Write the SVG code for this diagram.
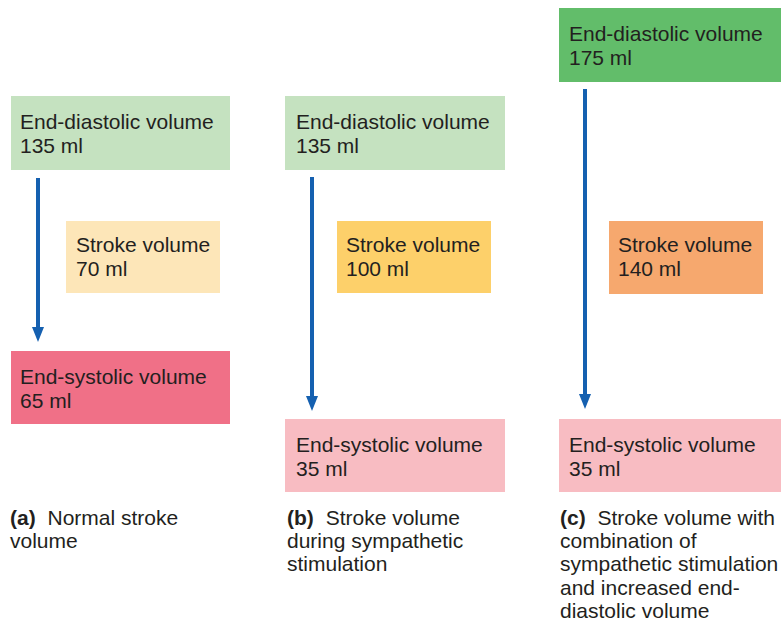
<svg xmlns="http://www.w3.org/2000/svg" width="781" height="622" viewBox="0 0 781 622">
<style>
.t{font-family:"Liberation Sans",Arial,sans-serif;font-size:21px;fill:#231f20}
.c{font-family:"Liberation Sans",Arial,sans-serif;font-size:21px;fill:#231f20}
.b{font-weight:bold}
.ar{stroke:#1560b0;stroke-width:4;fill:none}
</style>
<rect width="781" height="622" fill="#fff"/>
<g id="connectors">
<line class="ar" x1="38" y1="178" x2="38" y2="328"/>
<path d="M32,327 L44,327 L38,342 Z" fill="#1560b0"/>
<line class="ar" x1="312" y1="177" x2="312" y2="397"/>
<path d="M306,396 L318,396 L312,411 Z" fill="#1560b0"/>
<line class="ar" x1="585" y1="89" x2="585" y2="395"/>
<path d="M579,394 L591,394 L585,409 Z" fill="#1560b0"/>
</g>
<g id="a-edv"><rect x="11" y="96" width="219" height="74" fill="#c5e2c0"/><text class="t" x="20" y="129">End-diastolic volume</text><text class="t" x="20" y="153">135 ml</text></g>
<g id="a-sv"><rect x="66" y="221" width="154" height="72" fill="#fde6b8"/><text class="t" x="76" y="252">Stroke volume</text><text class="t" x="76" y="276">70 ml</text></g>
<g id="a-esv"><rect x="11" y="351" width="219" height="73" fill="#f07087"/><text class="t" x="20" y="384">End-systolic volume</text><text class="t" x="20" y="408">65 ml</text></g>
<g id="b-edv"><rect x="285" y="96" width="220" height="74" fill="#c5e2c0"/><text class="t" x="296" y="129">End-diastolic volume</text><text class="t" x="296" y="153">135 ml</text></g>
<g id="b-sv"><rect x="337" y="221" width="154" height="72" fill="#fdd06a"/><text class="t" x="346" y="252">Stroke volume</text><text class="t" x="346" y="276">100 ml</text></g>
<g id="b-esv"><rect x="285" y="419" width="220" height="73" fill="#f8bcc2"/><text class="t" x="296" y="452">End-systolic volume</text><text class="t" x="296" y="476">35 ml</text></g>
<g id="c-edv"><rect x="559" y="8" width="222" height="74" fill="#62bd6a"/><text class="t" x="569" y="41">End-diastolic volume</text><text class="t" x="569" y="65">175 ml</text></g>
<g id="c-sv"><rect x="609" y="221" width="154" height="73" fill="#f6a86e"/><text class="t" x="618" y="252">Stroke volume</text><text class="t" x="618" y="276">140 ml</text></g>
<g id="c-esv"><rect x="559" y="419" width="222" height="73" fill="#f8bcc2"/><text class="t" x="569" y="452">End-systolic volume</text><text class="t" x="569" y="476">35 ml</text></g>
<g id="captions">
<text class="c" x="10" y="525"><tspan class="b">(a)</tspan><tspan dx="6"> Normal stroke</tspan></text>
<text class="c" x="10" y="548">volume</text>
<text class="c" x="287" y="525"><tspan class="b">(b)</tspan><tspan dx="6"> Stroke volume</tspan></text>
<text class="c" x="287" y="548">during sympathetic</text>
<text class="c" x="287" y="571">stimulation</text>
<text class="c" x="560" y="525"><tspan class="b">(c)</tspan><tspan dx="6"> Stroke volume with</tspan></text>
<text class="c" x="560" y="548">combination of</text>
<text class="c" x="560" y="571">sympathetic stimulation</text>
<text class="c" x="560" y="595">and increased end-</text>
<text class="c" x="560" y="618">diastolic volume</text>
</g>
</svg>
